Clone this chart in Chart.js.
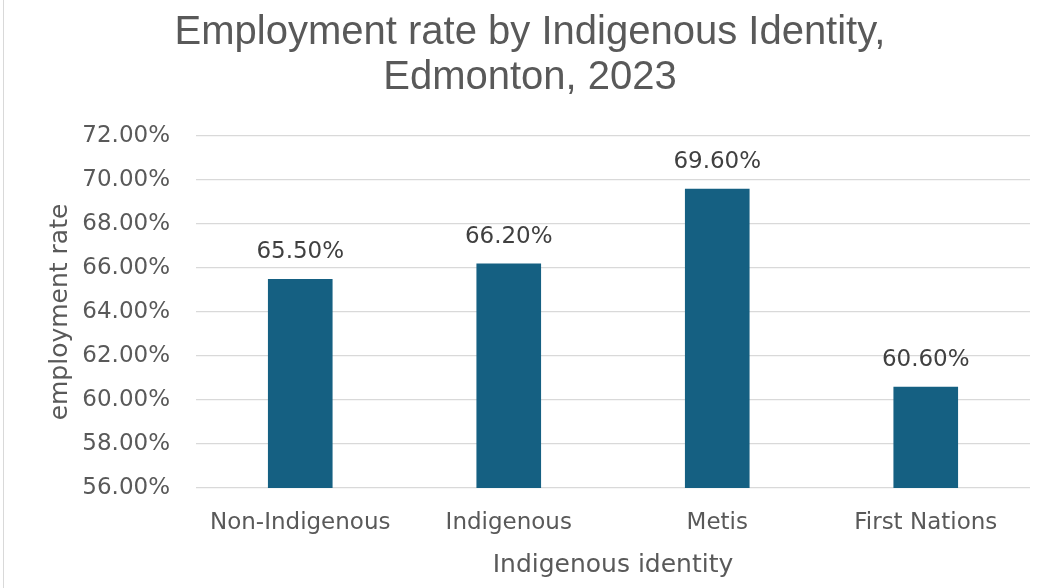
<!DOCTYPE html>
<html>
<head>
<meta charset="utf-8">
<script src="https://cdn.jsdelivr.net/npm/chart.js@4"></script>
<style>
  body { margin: 0; background: #fff; }
  #wrap { position: relative; width: 1062px; height: 588px; }
  #edge { position: absolute; left: 3px; top: 0; width: 1px; height: 588px; background: #d9d9d9; }
</style>
</head>
<body>
<div id="wrap">
  <div id="edge"></div>
  <canvas id="chart" width="1062" height="588"></canvas>
</div>
<script>
// data
const categories = ['Non-Indigenous', 'Indigenous', 'Metis', 'First Nations'];
const rates = [65.5, 66.2, 69.6, 60.6];
const titleLines = ['Employment rate by Indigenous Identity,', 'Edmonton, 2023'];
const yMin = 56, yMax = 72, yStep = 2;

const textGrey = '#595959';
const tickFont = { family: 'DejaVu Sans', size: 23 };
const axisTitleFont = { family: 'DejaVu Sans', size: 25 };

// draws the value above each bar
const barLabels = {
    id: 'barLabels',
    afterDatasetsDraw(chart) {
        let ctx = chart.ctx;
        let meta = chart.getDatasetMeta(0);
        ctx.save();
        ctx.font = '23px "DejaVu Sans"';
        ctx.fillStyle = '#404040';
        ctx.textAlign = 'center';
        ctx.textBaseline = 'alphabetic';
        meta.data.forEach((bar, i) => {
            ctx.fillText(rates[i].toFixed(2) + '%', bar.x, bar.y - 21);
        });
        ctx.restore();
    }
};

let ctx = document.getElementById('chart').getContext('2d');
let chart = new Chart(ctx, {
    type: 'bar',
    data: {
        labels: categories,
        datasets: [{
            label: 'employment rate',
            data: rates,
            backgroundColor: '#156082',
            categoryPercentage: 1,
            barPercentage: 0.31
        }]
    },
    options: {
        responsive: false,
        animation: false,
        layout: { padding: { left: 30, right: 32, top: 0, bottom: 5 } },
        plugins: {
            legend: { display: false },
            tooltip: { enabled: false },
            title: {
                display: true,
                text: titleLines,
                color: textGrey,
                font: { family: 'Liberation Sans', size: 40, weight: 'normal', lineHeight: 1.125 },
                padding: { top: 10.5, bottom: 35.5 }
            }
        },
        scales: {
            x: {
                grid: { display: false },
                border: { display: false },
                ticks: { color: textGrey, font: tickFont, padding: 13, maxRotation: 0 },
                title: {
                    display: true,
                    text: 'Indigenous identity',
                    color: textGrey,
                    font: axisTitleFont,
                    padding: { top: 0, bottom: 3 }
                },
                afterFit: s => { s.height = 95; }
            },
            y: {
                min: yMin,
                max: yMax,
                grid: { color: '#d9d9d9', lineWidth: 1.3, drawTicks: false },
                border: { display: false },
                ticks: {
                    stepSize: yStep,
                    color: textGrey,
                    font: tickFont,
                    padding: 26,
                    callback: v => v.toFixed(2) + '%'
                },
                title: {
                    display: true,
                    text: 'employment rate',
                    color: textGrey,
                    font: axisTitleFont,
                    padding: { top: 15, bottom: 0 }
                },
                afterFit: s => { s.width = 166; }
            }
        }
    },
    plugins: [barLabels]
});
</script>
</body>
</html>
